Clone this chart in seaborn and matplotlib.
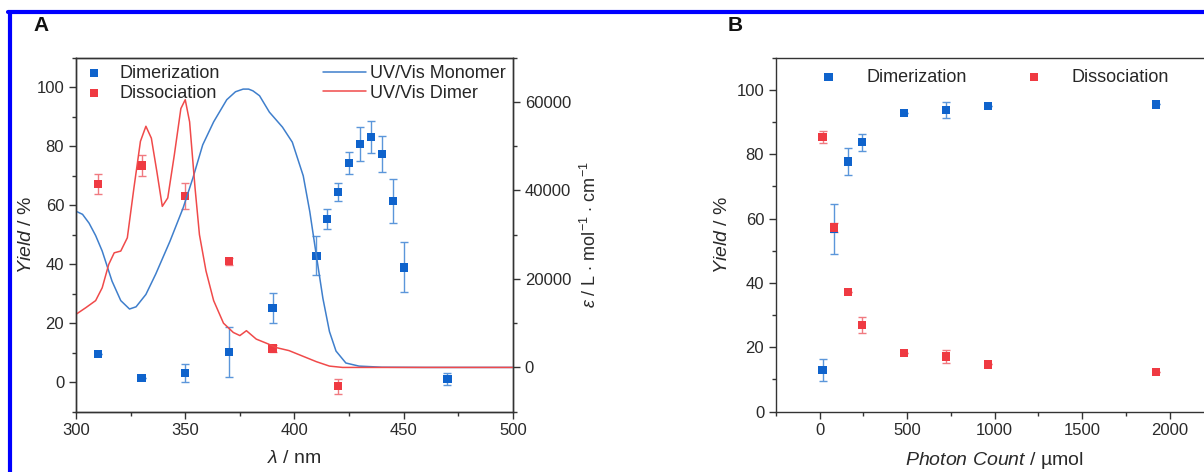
import numpy as np
import pandas as pd
import matplotlib
matplotlib.use("Agg")
import matplotlib.pyplot as plt
import seaborn as sns
from matplotlib.lines import Line2D
from matplotlib.ticker import MultipleLocator

# ---- panel A: yields vs. wavelength ----
dim_wl = [310, 330, 350, 370, 390, 410, 415, 420, 425, 430, 435, 440, 445, 450, 470]
dim_yield = [9.6, 1.4, 3.2, 10.3, 25.1, 42.8, 55.3, 64.4, 74.3, 80.7, 83.1, 77.4, 61.4, 38.9, 1.1]
dim_err = [0, 0, 3.0, 8.4, 5.2, 6.6, 3.4, 3.0, 3.8, 5.7, 5.5, 6.0, 7.5, 8.5, 1.9]

dis_wl = [310, 330, 350, 370, 390, 420]
dis_yield = [67.2, 73.4, 63.1, 41.0, 11.4, -1.4]
dis_err = [3.4, 3.5, 4.3, 1.2, 1.2, 2.6]

# UV/Vis spectra, epsilon in L/mol/cm
mono_wl = [300, 303, 306, 309, 312, 316.5, 320.5, 324.5, 327.5, 332, 336.5, 343, 349, 353.5,
           358, 363, 369, 373, 376.5, 379, 381, 384, 388.5, 394.5, 399, 404, 407, 410, 413,
           416, 419, 423.5, 429.5, 440, 460, 500]
mono_eps = [35300, 34600, 32600, 29800, 26300, 19500, 15100, 13200, 13700, 16500, 21100, 28500,
            36000, 42800, 50300, 55500, 60500, 62300, 62900, 62900, 62500, 61400, 57700, 54300,
            50900, 43300, 35200, 25300, 15600, 8100, 3700, 1000, 300, 50, 0, 0]

dimer_wl = [300, 304.5, 309, 312, 315, 317.5, 320.5, 323.5, 326.5, 329.5, 332, 334.5, 337,
            339.5, 342, 345, 348, 350, 352, 354.5, 356.5, 359.5, 363, 367.5, 372, 375, 378,
            382.5, 388, 391.5, 397.5, 404, 410, 416, 422, 500]
dimer_eps = [12000, 13500, 15100, 18000, 23300, 25900, 26300, 29300, 40500, 51100, 54500, 51800,
             44300, 36400, 38300, 48000, 58500, 60500, 55500, 40500, 30000, 21800, 15100, 10000,
             7900, 7200, 8300, 6400, 5300, 4500, 3800, 2500, 1300, 300, 0, 0]

# ---- panel B: yields vs. photon count ----
photons = [16, 80, 160, 240, 480, 720, 960, 1920]
dim_b = [13.0, 56.8, 77.7, 83.7, 92.9, 93.8, 95.0, 95.5]
dim_b_err = [3.5, 7.7, 4.3, 2.6, 0, 2.4, 0, 0]
dis_b = [85.3, 57.2, 37.1, 26.9, 18.2, 17.1, 14.7, 12.4]
dis_b_err = [1.9, 1.5, 0, 2.6, 0, 2.0, 0, 0]

BLUE = "#0f63cc"
RED = "#ef3a42"
BLUE_LINE = "#3f7fcc"
RED_LINE = "#f04a4a"
BLUE_ERR = "#5b96da"
RED_ERR = "#f07a80"
TXT = "#2a2a2a"

sns.set_style("ticks")
plt.rcParams["font.family"] = ["Liberation Sans", "DejaVu Sans"]
plt.rcParams["mathtext.fontset"] = "custom"
plt.rcParams["mathtext.rm"] = "Liberation Sans"
plt.rcParams["mathtext.it"] = "Liberation Sans:italic"
plt.rcParams["mathtext.bf"] = "Liberation Sans:bold"
plt.rcParams["axes.edgecolor"] = "#333333"
plt.rcParams["xtick.color"] = "#333333"
plt.rcParams["ytick.color"] = "#333333"
plt.rcParams["xtick.labelcolor"] = TXT
plt.rcParams["ytick.labelcolor"] = TXT

fig = plt.figure(figsize=(12.04, 4.72), dpi=100)
axA = fig.add_axes([0.0631, 0.1278, 0.3630, 0.7500])
axB = fig.add_axes([0.6445, 0.1278, 0.3634, 0.7500])


def style_ax(ax):
    ax.tick_params(which="major", direction="out", length=5, width=1, labelsize=12)
    ax.tick_params(which="minor", direction="out", length=3, width=1)
    for s in ax.spines.values():
        s.set_linewidth(1)


# ---- panel A ----
dfA_dim = pd.DataFrame({"wl": dim_wl, "y": dim_yield})
dfA_dis = pd.DataFrame({"wl": dis_wl, "y": dis_yield})
axA.errorbar(dim_wl, dim_yield, yerr=dim_err, fmt="none", ecolor=BLUE_ERR, elinewidth=1,
             capsize=3, capthick=1, zorder=2)
axA.errorbar(dis_wl, dis_yield, yerr=dis_err, fmt="none", ecolor=RED_ERR, elinewidth=1,
             capsize=3, capthick=1, zorder=2)
sns.scatterplot(data=dfA_dim, x="wl", y="y", ax=axA, marker="s", s=36, color=BLUE,
                edgecolor="none", label="Dimerization", zorder=3)
sns.scatterplot(data=dfA_dis, x="wl", y="y", ax=axA, marker="s", s=36, color=RED,
                edgecolor="none", label="Dissociation", zorder=3)
axA.set_xlim(300, 500)
axA.set_ylim(-10, 110)
axA.xaxis.set_major_locator(MultipleLocator(50))
axA.xaxis.set_minor_locator(MultipleLocator(25))
axA.yaxis.set_major_locator(MultipleLocator(20))
axA.yaxis.set_minor_locator(MultipleLocator(10))
axA.set_xlabel(r"$\lambda$ / nm", fontsize=14, color=TXT, labelpad=8)
axA.set_ylabel(r"$\mathit{Yield}$ / %", fontsize=14, color=TXT, labelpad=1)
style_ax(axA)
axA.legend(loc="upper left", frameon=False, fontsize=13, handletextpad=0.8,
           borderaxespad=0.1, labelspacing=0.15, borderpad=0.3, handlelength=1.2)

twin = axA.twinx()
dfM = pd.DataFrame({"wl": mono_wl, "eps": mono_eps})
dfD = pd.DataFrame({"wl": dimer_wl, "eps": dimer_eps})
sns.lineplot(data=dfM, x="wl", y="eps", ax=twin, color=BLUE_LINE, lw=1.1, sort=False,
             label="UV/Vis Monomer")
sns.lineplot(data=dfD, x="wl", y="eps", ax=twin, color=RED_LINE, lw=1.1, sort=False,
             label="UV/Vis Dimer")
twin.set_ylim(-10000, 70000)
twin.yaxis.set_major_locator(MultipleLocator(20000))
twin.yaxis.set_minor_locator(MultipleLocator(10000))
twin.set_xlabel("")
twin.set_ylabel(r"$\varepsilon$ / L $\cdot$ mol$^{-1}$ $\cdot$ cm$^{-1}$", fontsize=13,
                color=TXT, labelpad=6)
style_ax(twin)
twin.legend(loc="upper right", frameon=False, fontsize=13, handletextpad=0.2,
            borderaxespad=0.1, labelspacing=0.15, borderpad=0.3, handlelength=2.4)

# ---- panel B ----
dfB_dim = pd.DataFrame({"n": photons, "y": dim_b})
dfB_dis = pd.DataFrame({"n": photons, "y": dis_b})
axB.errorbar(photons, dim_b, yerr=dim_b_err, fmt="none", ecolor=BLUE_ERR, elinewidth=1,
             capsize=3, capthick=1, zorder=2)
axB.errorbar(photons, dis_b, yerr=dis_b_err, fmt="none", ecolor=RED_ERR, elinewidth=1,
             capsize=3, capthick=1, zorder=2)
sns.scatterplot(data=dfB_dim, x="n", y="y", ax=axB, marker="s", s=36, color=BLUE,
                edgecolor="none", label="Dimerization", zorder=3)
sns.scatterplot(data=dfB_dis, x="n", y="y", ax=axB, marker="s", s=36, color=RED,
                edgecolor="none", label="Dissociation", zorder=4)
axB.set_xlim(-250, 2250)
axB.set_ylim(0, 110)
axB.xaxis.set_major_locator(MultipleLocator(500))
axB.xaxis.set_minor_locator(MultipleLocator(250))
axB.yaxis.set_major_locator(MultipleLocator(20))
axB.yaxis.set_minor_locator(MultipleLocator(10))
axB.set_xlabel(r"$\mathit{Photon\ Count}$ / µmol", fontsize=14, color=TXT, labelpad=8)
axB.set_ylabel(r"$\mathit{Yield}$ / %", fontsize=14, color=TXT, labelpad=4)
style_ax(axB)
axB.tick_params(right=False, top=False)
axB.legend(loc="upper left", bbox_to_anchor=(0.075, 1.0), ncol=2, frameon=False, fontsize=13,
           handletextpad=1.6, columnspacing=3.2, borderaxespad=0.2, handlelength=1.0)

# panel letters and blue frame
fig.text(0.028, 0.947, "A", fontsize=15, fontweight="bold", color="#111111", va="center")
fig.text(0.604, 0.947, "B", fontsize=15, fontweight="bold", color="#111111", va="center")
fig.add_artist(Line2D([0.0066, 1.0], [0.9746, 0.9746], color="#0000ff", lw=3))
fig.add_artist(Line2D([0.0079, 0.0079], [0.0, 0.9746], color="#0000ff", lw=3))

fig.savefig("out.png", dpi=100, facecolor="white")
